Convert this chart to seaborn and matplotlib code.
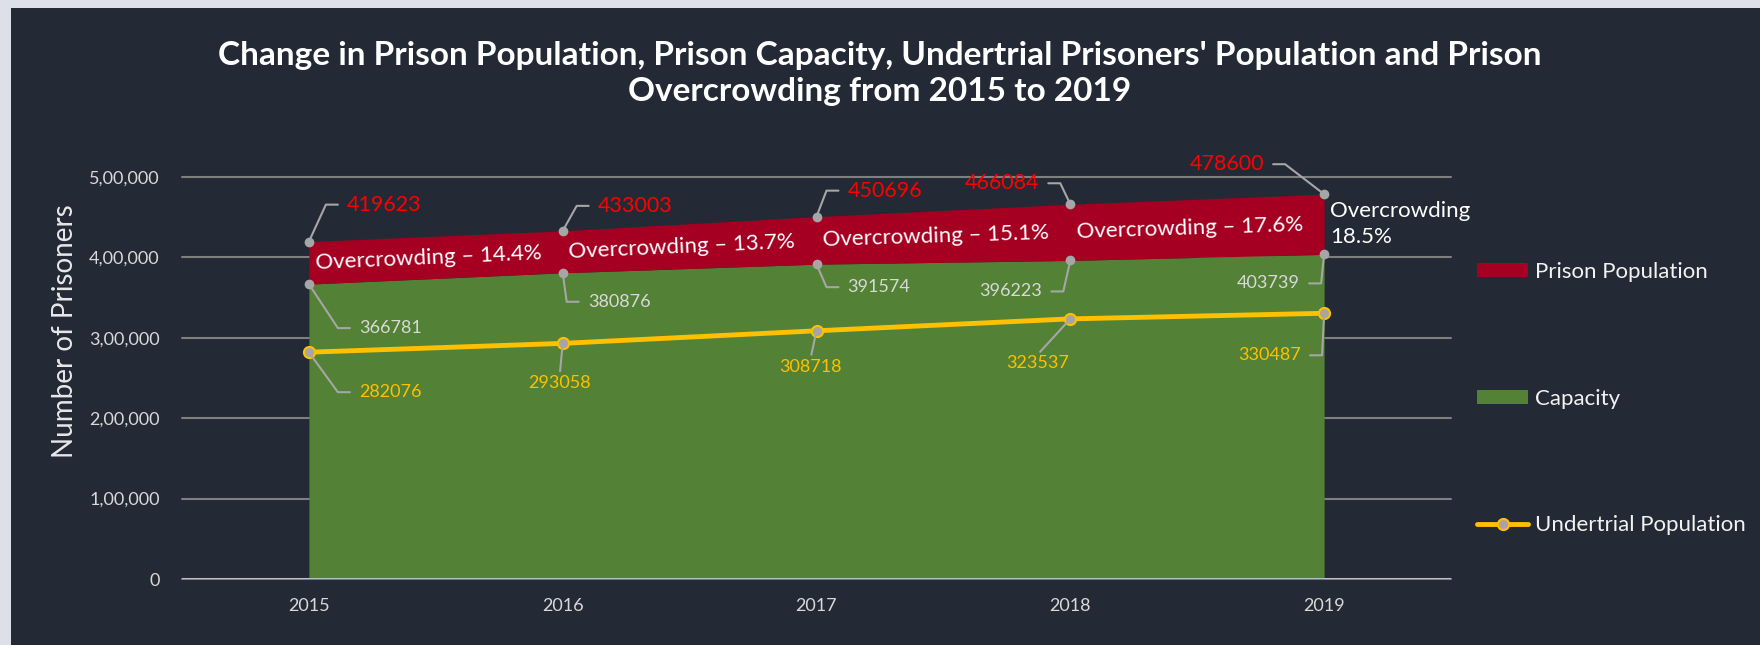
import math
import pandas as pd
import matplotlib
matplotlib.use('Agg')
import matplotlib.pyplot as plt
from matplotlib.patches import Rectangle, Patch
from matplotlib.lines import Line2D
import seaborn as sns

# data
years = [2015, 2016, 2017, 2018, 2019]
prison_population = [419623, 433003, 450696, 466084, 478600]
capacity = [366781, 380876, 391574, 396223, 403739]
undertrial = [282076, 293058, 308718, 323537, 330487]
overcrowding = [14.4, 13.7, 15.1, 17.6, 18.5]

y_ticks = [0, 100000, 200000, 300000, 400000, 500000]
y_tick_labels = ['0', '1,00,000', '2,00,000', '3,00,000', '4,00,000', '5,00,000']
x_tick_labels = ['2015', '2016', '2017', '2018', '2019']
legend_labels = ['Prison Population', 'Capacity', 'Undertrial Population']

title = ("Change in Prison Population, Prison Capacity, Undertrial Prisoners' Population and Prison\n"
         "Overcrowding from 2015 to 2019")

df = pd.DataFrame({'Year': years, 'Prison Population': prison_population,
                   'Capacity': capacity, 'Undertrial Population': undertrial})

BG = '#232a35'
RED = '#a50021'
GREEN = '#538135'
YELLOW = '#ffc000'
GREY = '#a6a6a6'
TXT = '#d9d9d9'

sns.set_theme(style='white')
plt.rcParams['font.family'] = ['Lato', 'DejaVu Sans']

W, H = 1760, 645
fig = plt.figure(figsize=(W / 100, H / 100), dpi=100, facecolor='#dde0e8')
fig.add_artist(Rectangle((11 / W, 0), 1 - 11 / W, 1 - 8 / H, transform=fig.transFigure,
                         facecolor=BG, edgecolor='none', zorder=-1))
ax = fig.add_axes([182 / W, 1 - 579 / H, (1451 - 182) / W, (579 - 177) / H])
ax.set_facecolor('none')

# stacked areas
ax.fill_between(years, 0, capacity, color=GREEN, lw=0, zorder=1)
ax.fill_between(years, capacity, prison_population, color=RED, lw=0, zorder=1)

sns.lineplot(data=df, x='Year', y='Undertrial Population', ax=ax, color=YELLOW, lw=3.5,
             marker='o', markersize=8, markerfacecolor='#a5a5a5', markeredgecolor=YELLOW,
             markeredgewidth=1.5, zorder=4, legend=False)
sns.scatterplot(x=years, y=prison_population, ax=ax, color=GREY, s=49, linewidth=0, zorder=6)
sns.scatterplot(x=years, y=capacity, ax=ax, color=GREY, s=49, linewidth=0, zorder=6)

ax.set_xlim(2014.5, 2019.5)
ax.set_ylim(0, 500000)
ax.set_yticks(y_ticks, y_tick_labels)
ax.set_xticks(years, x_tick_labels)
ax.grid(axis='y', color='#7f7f7f', lw=1.5)
ax.grid(axis='x', visible=False)
ax.set_axisbelow(True)
for gl in ax.get_ygridlines():
    gl.set_clip_on(False)
ax.axhline(0, color='#c8c8c8', lw=2, zorder=3)
for s in ax.spines.values():
    s.set_visible(False)
ax.tick_params(axis='y', length=0, pad=16, labelsize=13, labelcolor=TXT)
ax.tick_params(axis='x', length=0, pad=14, labelsize=13, labelcolor=TXT)
ax.set_xlabel('')
ax.set_ylabel('Number of Prisoners', fontsize=20, color='#e8e8e8')
ax.yaxis.set_label_coords(-0.082, 0.617)

PX = 0.72  # pixels -> points at 100 dpi


def callout(x, y, text, dx, dy, side, color, size):
    if side == 'c':
        ax.annotate(text, (x, y), xytext=(dx * PX, dy * PX), textcoords='offset points',
                    ha='center', va='center', color=color, fontsize=size, zorder=5,
                    arrowprops=dict(arrowstyle='-', color=GREY, lw=1.5, shrinkA=3, shrinkB=0,
                                    relpos=(0.5, 1), patchA=None))
        return
    gap, hlen = 9, 12
    sgn = 1 if side == 'l' else -1
    ex = dx - sgn * (gap + hlen)
    ang = math.degrees(math.atan2(dy, ex))
    ax.annotate(text, (x, y), xytext=(dx * PX, dy * PX), textcoords='offset points',
                ha='left' if side == 'l' else 'right', va='center', color=color,
                fontsize=size, zorder=5,
                arrowprops=dict(arrowstyle='-', color=GREY, lw=1.5, shrinkA=gap * PX, shrinkB=0,
                                relpos=(0, 0.5) if side == 'l' else (1, 0.5), patchA=None,
                                connectionstyle=f'angle,angleA=0,angleB={ang},rad=0'))


pop_pos = [(38, 37, 'l'), (35, 25, 'l'), (31, 26, 'l'), (-31, 21, 'r'), (-60, 30, 'r')]
cap_pos = [(50, -44, 'l'), (25, -29, 'l'), (31, -23, 'l'), (-28, -31, 'r'), (-24, -29, 'r')]
ut_pos = [(50, -40, 'l'), (-3, -40, 'c'), (-6, -36, 'c'), (-33, -44, 'c'), (-23, -42, 'r')]

for i, yr in enumerate(years):
    callout(yr, prison_population[i], str(prison_population[i]), *pop_pos[i], '#ff0000', 15.5)
    callout(yr, capacity[i], str(capacity[i]), *cap_pos[i], TXT, 13)
    callout(yr, undertrial[i], str(undertrial[i]), *ut_pos[i], YELLOW, 13)

# overcrowding labels in the red band
mid = [(c + p) / 2 for c, p in zip(capacity, prison_population)]
for i in range(len(years) - 1):
    f = 0.47
    xm = years[i] + f
    ym = mid[i] + f * (mid[i + 1] - mid[i])
    p0 = ax.transData.transform((years[i], mid[i]))
    p1 = ax.transData.transform((years[i + 1], mid[i + 1]))
    rot = math.degrees(math.atan2(p1[1] - p0[1], p1[0] - p0[0]))
    ax.text(xm, ym, f'Overcrowding \u2013 {overcrowding[i]}%', ha='center', va='center',
            rotation=rot, rotation_mode='anchor', color='white', fontsize=16, zorder=5)
ax.annotate(f'Overcrowding\n{overcrowding[-1]}%', (years[-1], mid[-1]), xytext=(6 * PX, 0),
            textcoords='offset points', ha='left', va='center', color='white', fontsize=16,
            linespacing=1.35, zorder=5)

handles = [Patch(facecolor=RED, edgecolor='none'), Patch(facecolor=GREEN, edgecolor='none'),
           Line2D([], [], color=YELLOW, lw=3.5, marker='o', markersize=8, markerfacecolor='#a5a5a5',
                  markeredgecolor=YELLOW, markeredgewidth=1.5)]
fig.legend(handles, legend_labels, loc='upper left', bbox_to_anchor=(1477 / W, 1 - 262 / H),
           frameon=False, fontsize=16, labelcolor='#f2f2f2', handlelength=2.3, handleheight=0.63,
           handletextpad=0.3, labelspacing=4.8, borderpad=0, borderaxespad=0)

fig.text(0.5, 1 - 73.5 / H, title, ha='center', va='center', fontsize=24, weight='bold',
         color='white', linespacing=1.25)

fig.savefig('out.png', dpi=100, facecolor=fig.get_facecolor())
